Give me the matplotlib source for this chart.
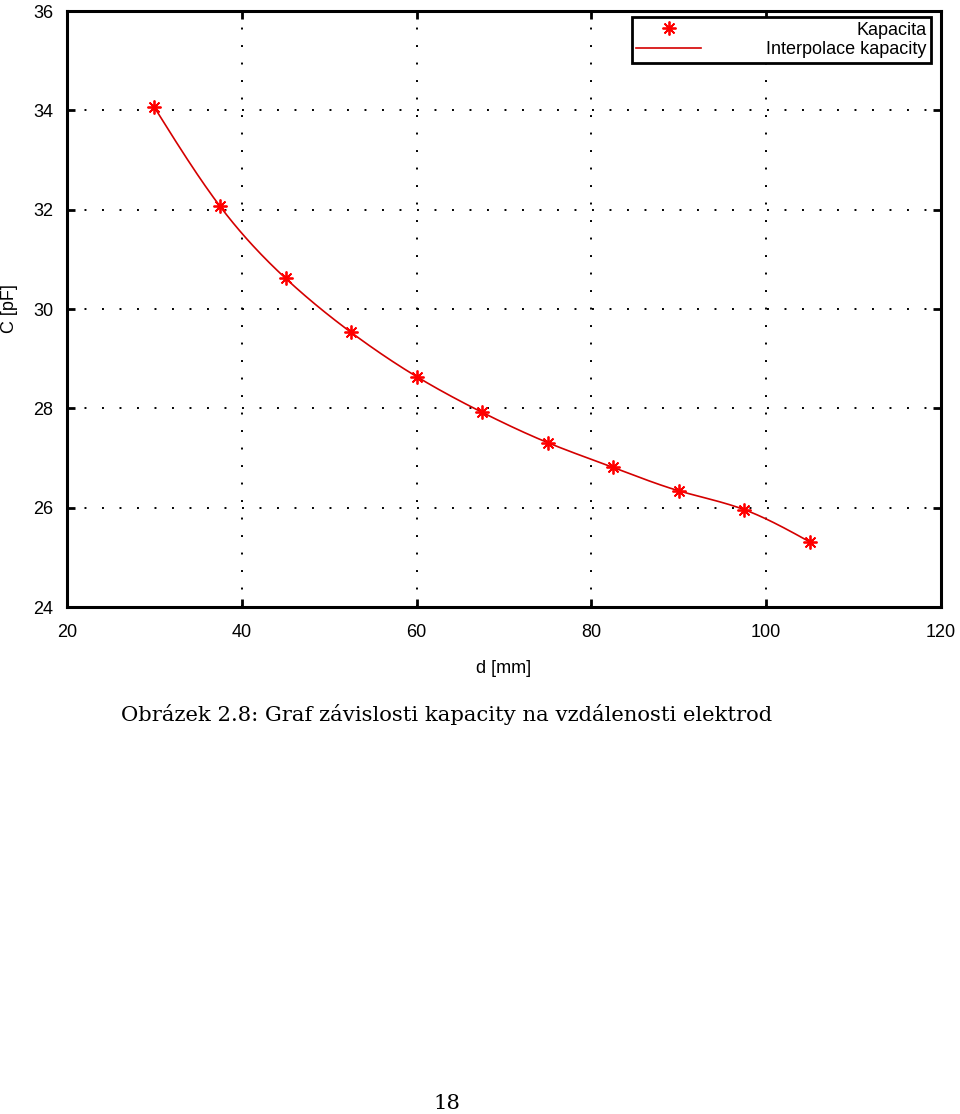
import numpy as np
import matplotlib
matplotlib.use("Agg")
import matplotlib.pyplot as plt

d_mm = [30, 37.5, 45, 52.5, 60, 67.5, 75, 82.5, 90, 97.5, 105]
c_pf = [34.06, 32.07, 30.62, 29.53, 28.64, 27.92, 27.31, 26.81, 26.34, 25.96, 25.31]

x_ticks = [20, 40, 60, 80, 100, 120]
y_ticks = [24, 26, 28, 30, 32, 34, 36]


def natural_spline(x, y, xs):
  # natural cubic spline through the points (second derivative 0 at the ends)
  x = np.asarray(x, float)
  y = np.asarray(y, float)
  n = len(x)
  h = np.diff(x)
  A = np.zeros((n, n))
  b = np.zeros(n)
  A[0, 0] = 1
  A[-1, -1] = 1
  for i in range(1, n - 1):
    A[i, i - 1] = h[i - 1]
    A[i, i] = 2 * (h[i - 1] + h[i])
    A[i, i + 1] = h[i]
    b[i] = 3 * ((y[i + 1] - y[i]) / h[i] - (y[i] - y[i - 1]) / h[i - 1])
  c = np.linalg.solve(A, b)
  idx = np.clip(np.searchsorted(x, xs) - 1, 0, n - 2)
  dx = xs - x[idx]
  bb = (y[idx + 1] - y[idx]) / h[idx] - h[idx] * (2 * c[idx] + c[idx + 1]) / 3
  dd = (c[idx + 1] - c[idx]) / (3 * h[idx])
  return y[idx] + bb * dx + c[idx] * dx ** 2 + dd * dx ** 3


plt.rcParams['font.family'] = ['Liberation Sans', 'DejaVu Sans']

fig = plt.figure(figsize=(9.6, 11.14), dpi=100)
ax = fig.add_axes([0.0698, 0.4551, 0.9104, 0.535])

xs = np.linspace(d_mm[0], d_mm[-1], 400)
ax.plot(xs, natural_spline(d_mm, c_pf, xs), color='#d40000', lw=1.2, zorder=3)
pts, = ax.plot(d_mm, c_pf, linestyle='none', marker=(8, 2, 0), markersize=10,
               markeredgewidth=1.3, color='red', zorder=4)
ln, = ax.plot([], [], color='#d40000', lw=1.2)

ax.set_xlim(20, 120)
ax.set_ylim(24, 36)
ax.set_xticks(x_ticks)
ax.set_yticks(y_ticks)
ax.grid(True, color='black', linestyle=(0, (1, 8)), linewidth=1.4)
ax.tick_params(direction='in', length=6, width=2, top=True, right=True, labelsize=13)
ax.tick_params(axis='x', pad=12)
ax.tick_params(axis='y', pad=10)
for s in ax.spines.values():
  s.set_linewidth(2.2)

ax.set_xlabel('d [mm]', fontsize=13, labelpad=14)
ax.set_ylabel('C [pF]', fontsize=13)
ax.yaxis.set_label_coords(-0.056, 0.5)

leg = ax.legend([pts, ln], ['Kapacita', 'Interpolace kapacity'], loc='upper right',
                bbox_to_anchor=(0.989, 0.99), borderaxespad=0,
                fontsize=13, fancybox=False, edgecolor='black', framealpha=1,
                handlelength=3.6, handletextpad=3.6,
                borderpad=0.25, labelspacing=0.15)
leg.get_frame().set_linewidth(2)

# octave puts the legend text flush right, so push the short label over
fig.canvas.draw()
r = fig.canvas.get_renderer()
t_short, t_long = leg.get_texts()
shift = t_long.get_window_extent(r).width - t_short.get_window_extent(r).width
t_short.set_x(shift)

fig.text(0.465, 0.359, 'Obrázek 2.8: Graf závislosti kapacity na vzdálenosti elektrod',
         ha='center', va='center', fontsize=15.2, family='DejaVu Serif')
fig.text(0.466, 0.009, '18', ha='center', va='center', fontsize=15.2, family='DejaVu Serif')

fig.savefig('out.png', dpi=100)
